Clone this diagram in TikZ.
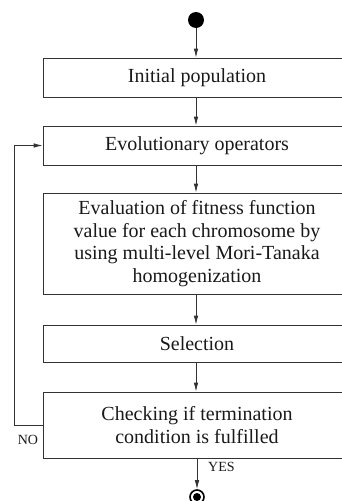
\documentclass[tikz,border=0pt]{standalone}
\usepackage{fontspec}
\setmainfont{Liberation Serif}
\usetikzlibrary{arrows.meta}
\begin{document}
\begin{tikzpicture}[x=1pt,y=-1pt,
  box/.style={draw=black!80,line width=0.8pt,minimum width=308pt,inner sep=0pt,align=center,
    font=\fontsize{20}{22.7}\selectfont,text=black!90},
  flow/.style={draw=black!80,line width=0.8pt,-{Latex[length=9pt,width=4.5pt]}},
  lbl/.style={font=\fontsize{14}{16}\selectfont,text=black!90,inner sep=0pt}]
\useasboundingbox (0,0) rectangle (342,501);
\clip (0,0) rectangle (342,501);
\node[circle,fill=black,minimum size=16pt,inner sep=0pt] (start) at (196,20) {};
\node[box,minimum height=39pt] (b1) at (197,77.5) {Initial population};
\node[box,minimum height=39pt] (b2) at (197,145.5) {Evolutionary operators};
\node[box,minimum height=101pt] (b3) at (197,243.5) {Evaluation of fitness function\\value for each chromosome by\\using multi-level Mori-Tanaka\\homogenization};
\node[box,minimum height=37pt] (b4) at (197,343.5) {Selection};
\node[box,minimum height=66pt] (b5) at (197,425) {Checking if termination\\condition is fulfilled};
\node[circle,draw=black,line width=1.6pt,fill=white,minimum size=14pt,inner sep=0pt] (end) at (197,497) {};
\node[circle,fill=black,minimum size=8pt,inner sep=0pt] (endin) at (end.center) {};
\coordinate (tl) at (14,0);
\draw[flow] (start) -- (b1.north -| start);
\draw[flow] (b1.south -| start) -- (b2.north -| start);
\draw[flow] (b2.south -| start) -- (b3.north -| start);
\draw[flow] (b3.south -| start) -- (b4.north -| start);
\draw[flow] (b4.south -| start) -- (b5.north -| start);
\draw[flow] (b5.south -| end) -- (end.north);
\draw[flow] (b5.west) -| (tl |- b5.west) |- (b2.west);
\node[lbl] (no) at (28,440) {NO};
\node[lbl,anchor=west] (yes) at (208,467) {YES};
\end{tikzpicture}
\end{document}
